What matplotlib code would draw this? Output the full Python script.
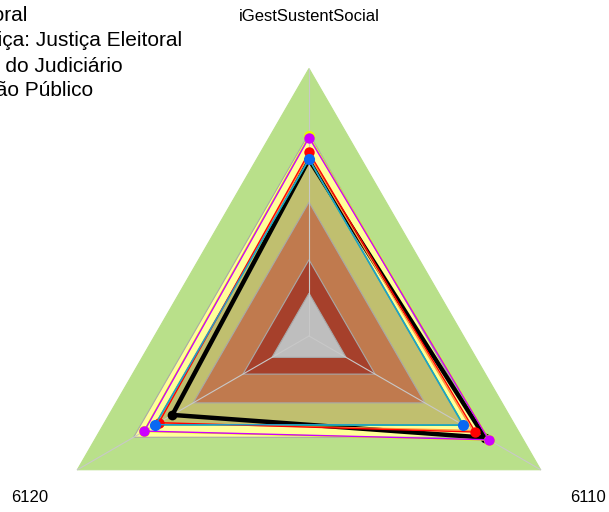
import numpy as np
import matplotlib.pyplot as plt
from matplotlib.patches import Polygon

plt.rcParams['font.family'] = ['Liberation Sans', 'DejaVu Sans']

# eixos do radar (sentido horário a partir do topo)
eixos = ["iGestSustentSocial", "6110", "6120"]
angulos = np.deg2rad([90, -30, 210])

# faixas de fundo (raio normalizado, de fora para dentro)
faixas = [1.0, 0.757, 0.667, 0.5, 0.285, 0.16]
cores_faixas = ["#b9e08a", "#ffff99", "#c0bf6f", "#c07a4e", "#a6402b", "#bebebe"]

# séries: valores normalizados (iGestSustentSocial, 6110, 6120)
preto = [0.660, 0.760, 0.590]
verde = [0.660, 0.668, 0.664]
laranja = [0.676, 0.706, 0.652]
amarelo = [0.747, 0.779, 0.714]
magenta = [0.742, 0.776, 0.711]
vermelho = [0.686, 0.718, 0.648]
azul = [0.662, 0.665, 0.663]

legenda = [
    "TRE: Tribunal Regional Eleitoral",
    "Média do Segmento de Justiça: Justiça Eleitoral",
    "Média Geral do Judiciário",
    "Média da Gestão Público",
]


def coords(vals):
    v = np.asarray(vals, dtype=float)
    return v * np.cos(angulos), v * np.sin(angulos)


W, H = 609, 512
cx, cy, R = 309, 336, 267.5

fig = plt.figure(figsize=(W / 100, H / 100), dpi=100)
ax = fig.add_axes([0, 0, 1, 1])
ax.set_xlim(-cx / R, (W - cx) / R)
ax.set_ylim(-(H - cy) / R, cy / R)
ax.axis("off")

# fundo em faixas
for i, (r, cor) in enumerate(zip(faixas, cores_faixas)):
    x, y = coords([r] * 3)
    borda = cor if i == 0 else "#a8a8a8"
    ax.add_patch(Polygon(np.column_stack([x, y]), closed=True, facecolor=cor,
                         edgecolor=borda, linewidth=0.8, zorder=1))

# raios
xo, yo = coords([1.0] * 3)
for xi, yi in zip(xo, yo):
    ax.plot([0, xi], [0, yi], color="#c8c8c8", lw=0.8, zorder=2)


def serie(vals, cor_linha, lw, cor_marca=None, ms=0, z=3):
    x, y = coords(vals)
    ax.plot(np.append(x, x[0]), np.append(y, y[0]), color=cor_linha, lw=lw,
            zorder=z, solid_joinstyle="miter")
    if ms:
        ax.plot(x, y, "o", color=cor_marca or cor_linha, ms=ms, mew=0, zorder=z + 0.5)


serie(preto, "black", 3.2, ms=7, z=3)
serie(verde, "#1ccf74", 1.0, z=4)
serie(laranja, "#ff9a3c", 1.0, z=4)
serie(amarelo, "#e4ff00", 1.0, ms=8, z=5)
serie(magenta, "#cc00ff", 1.0, ms=7.5, z=6)
serie(vermelho, "#ff0000", 1.0, ms=7.5, z=7)
serie(azul, "#1e9cd0", 1.0, cor_marca="#0a68f2", ms=8, z=8)

# rótulos dos eixos
ax.text(0, (cy - 21) / R, eixos[0], ha="center", va="baseline", fontsize=12)
ax.text((30 - cx) / R, (cy - 497) / R, eixos[2], ha="center", va="center", fontsize=12)
ax.text((588 - cx) / R, (cy - 497) / R, eixos[1], ha="center", va="center", fontsize=12)

# legenda (cortada à esquerda)
fim_x = [27, 182, 123, 93]
base_y = [21, 46.5, 71.5, 96.5]
for txt, xe, yb in zip(legenda, fim_x, base_y):
    fig.text(xe / W, 1 - yb / H, txt, ha="right", va="baseline", fontsize=15)

plt.savefig("out.png", dpi=100)
